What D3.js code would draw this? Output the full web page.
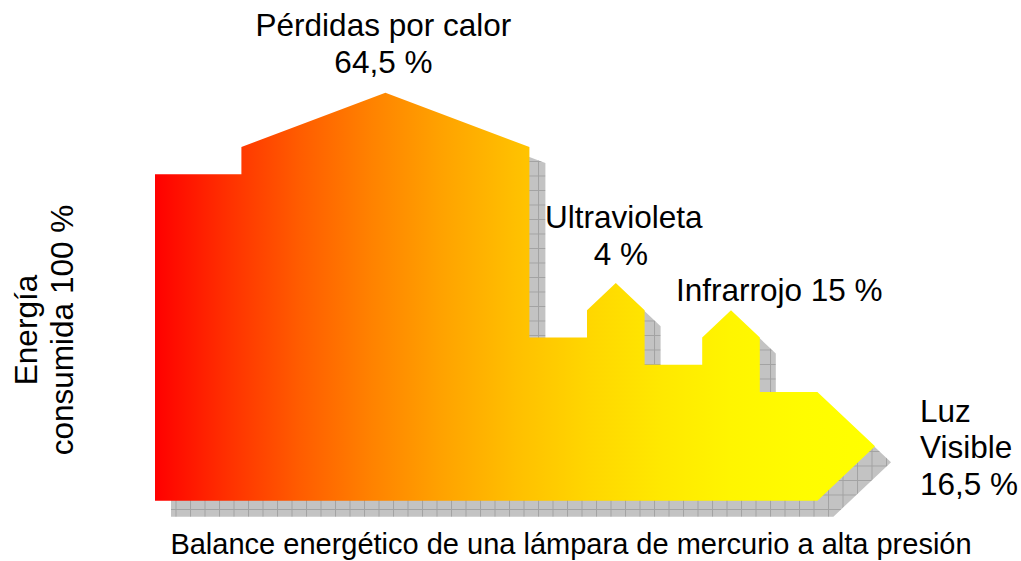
<!DOCTYPE html>
<meta charset="utf-8">
<style>
body { margin: 0; background: #fff; }
text { font-family: Arial, "Liberation Sans", sans-serif; font-size: 31.5px; fill: #000; }
text.title { font-size: 29px; }
</style>
<svg width="1021" height="561" id="chart"></svg>
<script src="https://cdn.jsdelivr.net/npm/d3@7"></script>
<script>

// flows of the lamp (percent of consumed energy)
var stages = ["Energía consumida", "Pérdidas por calor", "Ultravioleta", "Infrarrojo", "Luz Visible"];
var percents = [100, 64.5, 4, 15, 16.5];

// outline of the band (x in steps, y in band units)
var outlineX = [0, 3, 3, 8, 13, 13, 15, 15, 16, 17, 17, 19, 19, 20, 21, 21, 23, 25, 23, 0];
var outlineY = [12, 12, 13, 15, 13, 6, 6, 7, 8, 7, 5, 5, 6, 7, 6, 4, 4, 2, 0, 0];

var svg = d3.select("svg#chart");

var x = d3.scaleLinear().domain([0, 25]).range([155, 875]),
    y = d3.scaleLinear().domain([0, 15]).range([500.7, 92.7]);

var defs = svg.append("defs");

// red -> yellow, eased like the original
var grad = defs.append("linearGradient")
    .attr("id", "fire")
    .attr("gradientUnits", "userSpaceOnUse")
    .attr("x1", x(0)).attr("x2", x(25)).attr("y1", 0).attr("y2", 0);
d3.range(0, 1.0001, 0.1).forEach(function(f) {
  var g = Math.round(255 * (1 - (1 - f) * (1 - f)));
  grad.append("stop").attr("offset", f).attr("stop-color", d3.rgb(255, g, 0));
});

// grey tiled shadow
var pat = defs.append("pattern")
    .attr("id", "tiles")
    .attr("patternUnits", "userSpaceOnUse")
    .attr("width", 14.5).attr("height", 14.5);
pat.append("rect").attr("width", 14.5).attr("height", 14.5).attr("fill", "#c3c3c3");
pat.append("path")
    .attr("d", "M0,0.5H14.5M0.5,0V14.5")
    .attr("stroke", "#a2a2a2").attr("stroke-width", 1).attr("fill", "none");

var pts = outlineX.map(function(d, i) { return [x(d), y(outlineY[i])]; });
var line = d3.line().curve(d3.curveLinearClosed);

svg.append("path")
    .attr("d", line(pts))
    .attr("transform", "translate(16,16)")
    .attr("fill", "url(#tiles)");

svg.append("path")
    .attr("d", line(pts))
    .attr("fill", "url(#fire)");

function fmt(v) { return String(v).replace(".", ",") + " %"; }

// heat
var heat = svg.append("text").attr("text-anchor", "middle");
heat.append("tspan").attr("x", x(8) - 2).attr("y", 36).text(stages[1]);
heat.append("tspan").attr("x", x(8) - 2).attr("y", 73).text(fmt(percents[1]));

// UV
var uv = svg.append("text").attr("text-anchor", "middle");
uv.append("tspan").attr("x", x(16) + 8).attr("y", 228).text(stages[2]);
uv.append("tspan").attr("x", x(16) + 5).attr("y", 265).text(fmt(percents[2]));

// IR
svg.append("text").attr("x", 676).attr("y", 301).text(stages[3] + " " + fmt(percents[3]));

// visible light
var luz = svg.append("text");
var w = stages[4].split(" ");
luz.append("tspan").attr("x", 920).attr("y", 422).text(w[0]);
luz.append("tspan").attr("x", 920).attr("y", 458).text(w[1]);
luz.append("tspan").attr("x", 920).attr("y", 495).text(fmt(percents[4]));

// input
var inp = svg.append("text")
    .attr("text-anchor", "middle")
    .attr("transform", "translate(0,330) rotate(-90)");
var iw = stages[0].split(" ");
inp.append("tspan").attr("x", 0).attr("y", 37).text(iw[0]);
inp.append("tspan").attr("x", 0).attr("y", 73).text(iw[1] + " " + fmt(percents[0]));

svg.append("text")
    .attr("class", "title")
    .attr("x", 571).attr("y", 554)
    .attr("text-anchor", "middle")
    .text("Balance energético de una lámpara de mercurio a alta presión");

</script>
